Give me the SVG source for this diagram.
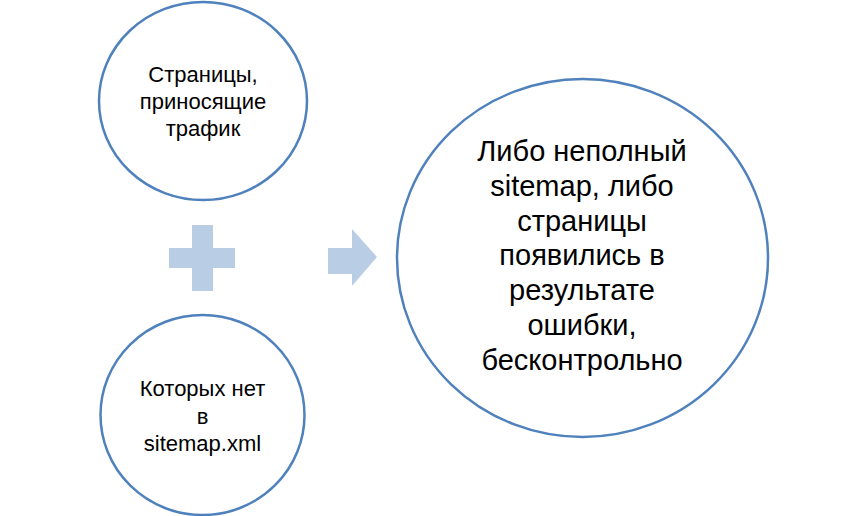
<svg xmlns="http://www.w3.org/2000/svg" width="866" height="516" viewBox="0 0 866 516">
<style>
.node{fill:#ffffff;stroke:#4f81bd;stroke-width:2.5}
.sym{fill:#b9cde5;stroke:none}
text{font-family:"Liberation Sans",Arial,sans-serif;fill:#000000;text-anchor:middle}
.s{font-size:22px}
.b{font-size:29px}
</style>
<rect width="866" height="516" fill="#ffffff"/>
<g id="node-pages">
<ellipse class="node" cx="203" cy="101" rx="104" ry="99"/>
<text class="s"><tspan x="203" y="82">Страницы,</tspan><tspan x="203" y="109">приносящие</tspan><tspan x="203" y="136">трафик</tspan></text>
</g>
<g id="node-notinsitemap">
<ellipse class="node" cx="202.5" cy="415" rx="102" ry="100"/>
<text class="s"><tspan x="202.5" y="396">Которых нет</tspan><tspan x="202.5" y="423.5">в</tspan><tspan x="202.5" y="451">sitemap.xml</tspan></text>
</g>
<g id="node-result">
<ellipse class="node" cx="582.5" cy="258" rx="185.5" ry="179"/>
<text class="b"><tspan x="582" y="161">Либо неполный</tspan><tspan x="582" y="195.8">sitemap, либо</tspan><tspan x="582" y="230.6">страницы</tspan><tspan x="582" y="265.4">появились в</tspan><tspan x="582" y="300.2">результате</tspan><tspan x="582" y="335">ошибки,</tspan><tspan x="582" y="369.8">бесконтрольно</tspan></text>
</g>
<g id="connectors">
<path id="plus" class="sym" d="M192,225 H213 V248 H235 V268 H213 V291 H192 V268 H169 V248 H192 Z"/>
<path id="arrow" class="sym" d="M328,248 H352 V229 L377,257 L352,286 V274 H328 Z"/>
</g>
</svg>
